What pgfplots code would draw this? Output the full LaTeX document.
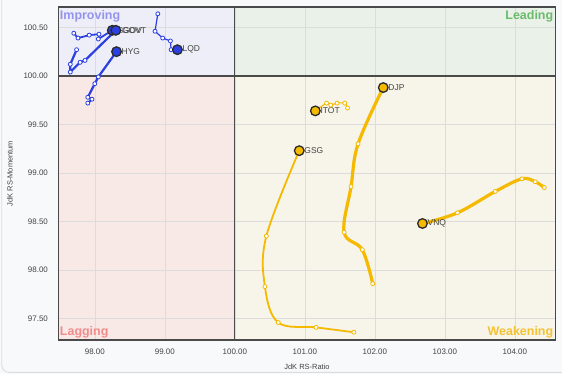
\documentclass[border=0pt]{standalone}
\usepackage{pgfplots}
\pgfplotsset{compat=1.18}
\usepackage{fontspec}
\setmainfont{Liberation Sans}
\definecolor{outerbg}{HTML}{F8F9FA}
\definecolor{framecol}{HTML}{DADDE0}
\definecolor{impfill}{HTML}{EEEEF8}
\definecolor{leadfill}{HTML}{E9F1E8}
\definecolor{lagfill}{HTML}{F8E8E6}
\definecolor{weakfill}{HTML}{F7F4E9}
\definecolor{imptext}{HTML}{9494EE}
\definecolor{leadtext}{HTML}{6CBA6C}
\definecolor{lagtext}{HTML}{F08C8C}
\definecolor{weaktext}{HTML}{F4C232}
\definecolor{gridcol}{HTML}{DCDCDC}
\definecolor{axiscol}{HTML}{4A4A4A}
\definecolor{tickcol}{HTML}{444444}
\definecolor{bluec}{HTML}{2C40E2}
\definecolor{yellc}{HTML}{F5BA00}
\definecolor{headedge}{HTML}{2A2A2A}
\tikzset{hlabel/.style={right, xshift=4.5bp, inner sep=0.5bp, font=\fontsize{8.5}{10}\selectfont, text=tickcol}}
\pgfplotsset{
  tailmark/.style={mark=*, mark size=2bp, mark options={fill=white, draw=#1, line width=0.8bp}},
  head/.style={only marks, mark=*, mark size=4.8bp, mark options={fill=#1, draw=headedge, line width=1.3bp}},
  rrgdims/.style={scale only axis, width=497.1bp, height=333bp,
    xmin=97.48, xmax=104.58, ymin=97.28, ymax=100.71},
}
\begin{document}
\begin{tikzpicture}
\fill[outerbg] (-58.4bp,-34bp) rectangle (503.6bp,340bp);
\begin{scope}
\clip (-58.4bp,-34bp) rectangle (503.6bp,340bp);
\draw[framecol, line width=0.9bp, rounded corners=7bp] (-56.6bp,-32.3bp) rectangle (520bp,360bp);
\end{scope}
% quadrant backgrounds
\begin{axis}[rrgdims, hide axis]
\addplot[draw=none, fill=impfill] coordinates {(97.48,100) (100,100) (100,100.71) (97.48,100.71)} -- cycle;
\addplot[draw=none, fill=leadfill] coordinates {(100,100) (104.58,100) (104.58,100.71) (100,100.71)} -- cycle;
\addplot[draw=none, fill=lagfill] coordinates {(97.48,97.28) (100,97.28) (100,100) (97.48,100)} -- cycle;
\addplot[draw=none, fill=weakfill] coordinates {(100,97.28) (104.58,97.28) (104.58,100) (100,100)} -- cycle;
\end{axis}
\begin{axis}[
  rrgdims,
  xtick={98,99,100,101,102,103,104},
  ytick={97.5,98,98.5,99,99.5,100,100.5},
  grid=major, major grid style={gridcol, line width=0.6bp},
  axis line style={axiscol, line width=1.2bp},
  tick style={draw=none},
  ticklabel style={font=\fontsize{8}{9}\selectfont, text=tickcol},
  xticklabel style={yshift=-5bp},
  yticklabel style={xshift=-7bp},
  xlabel={JdK RS-Ratio},
  ylabel={JdK RS-Momentum},
  label style={font=\fontsize{7.5}{9}\selectfont, text=tickcol},
  xlabel style={yshift=-3bp},
  ylabel style={yshift=4bp},
  clip=false,
  /pgf/number format/fixed,
  /pgf/number format/fixed zerofill,
  /pgf/number format/precision=2,
  /pgf/number format/assume math mode=true,
]
% centre lines
\addplot[axiscol, line width=1.2bp] coordinates {(100,97.28) (100,100.71)};
\addplot[axiscol, line width=1.2bp] coordinates {(97.48,100) (104.58,100)};
% quadrant labels
\node[anchor=north west, inner sep=0pt, font=\bfseries\fontsize{12.5}{14}\selectfont, text=imptext] at (axis cs:97.5,100.68) {Improving};
\node[anchor=north east, inner sep=0pt, font=\bfseries\fontsize{12.5}{14}\selectfont, text=leadtext] at (axis cs:104.55,100.68) {Leading};
\node[anchor=south west, inner sep=0pt, font=\bfseries\fontsize{12.5}{14}\selectfont, text=lagtext] at (axis cs:97.5,97.30) {Lagging};
\node[anchor=south east, inner sep=0pt, font=\bfseries\fontsize{12.5}{14}\selectfont, text=weaktext] at (axis cs:104.55,97.30) {Weakening};
% ---- yellow series ----
% GSG
\addplot[yellc, line width=1.8bp, smooth, tension=0.6, tailmark=yellc] coordinates {(101.70,97.36) (101.16,97.41) (100.62,97.46) (100.43,97.83) (100.45,98.35) (100.92,99.23)};
\addplot[head=yellc] coordinates {(100.92,99.23)} node[hlabel] {GSG};
% DJP
\addplot[yellc, line width=3.2bp, smooth, tension=0.6, tailmark=yellc] coordinates {(101.97,97.86) (101.82,98.21) (101.56,98.39) (101.66,98.86) (101.76,99.30) (102.12,99.88)};
\addplot[head=yellc] coordinates {(102.12,99.88)} node[hlabel] {DJP};
% ITOT
\addplot[yellc, line width=1.1bp, smooth, tension=0.4, tailmark=yellc] coordinates {(101.61,99.67) (101.57,99.72) (101.46,99.72) (101.37,99.70) (101.31,99.72) (101.15,99.64)};
\addplot[head=yellc] coordinates {(101.15,99.64)} node[hlabel] {ITOT};
% VNQ
\addplot[yellc, line width=3.2bp, smooth, tension=0.6, tailmark=yellc] coordinates {(104.42,98.85) (104.29,98.91) (104.10,98.94) (103.72,98.81) (103.18,98.59) (102.68,98.48)};
\addplot[head=yellc] coordinates {(102.68,98.48)} node[hlabel] {VNQ};
% ---- blue series ----
% LQD
\addplot[bluec, line width=1.2bp, tailmark=bluec] coordinates {(98.90,100.64) (98.86,100.46) (98.97,100.39) (99.08,100.36) (99.09,100.27) (99.18,100.27)};
\addplot[head=bluec] coordinates {(99.18,100.27)} node[hlabel] {LQD};
% HYG
\addplot[bluec, line width=2.2bp, tailmark=bluec] coordinates {(97.90,99.72) (97.96,99.76) (97.90,99.78) (98.00,99.92) (98.05,99.99) (98.31,100.25)};
\addplot[head=bluec] coordinates {(98.31,100.25)} node[hlabel] {HYG};
% upper trail 1
\addplot[bluec, line width=1.8bp, tailmark=bluec] coordinates {(97.70,100.44) (97.76,100.39) (97.92,100.42) (98.06,100.43) (98.05,100.38) (98.25,100.47)};
% upper trail 2
\addplot[bluec, line width=2.2bp, tailmark=bluec] coordinates {(97.74,100.27) (97.65,100.12) (97.65,100.04) (97.79,100.14) (97.86,100.16) (98.30,100.47)};
\addplot[head=bluec] coordinates {(98.25,100.47)} node[hlabel] {SGOV};
\addplot[head=bluec] coordinates {(98.30,100.47)} node[hlabel, xshift=1bp] {GOVT};
\end{axis}
\pgfresetboundingbox
\path[use as bounding box] (-58.4bp,-34bp) rectangle (503.6bp,340bp);
\end{tikzpicture}
\end{document}
